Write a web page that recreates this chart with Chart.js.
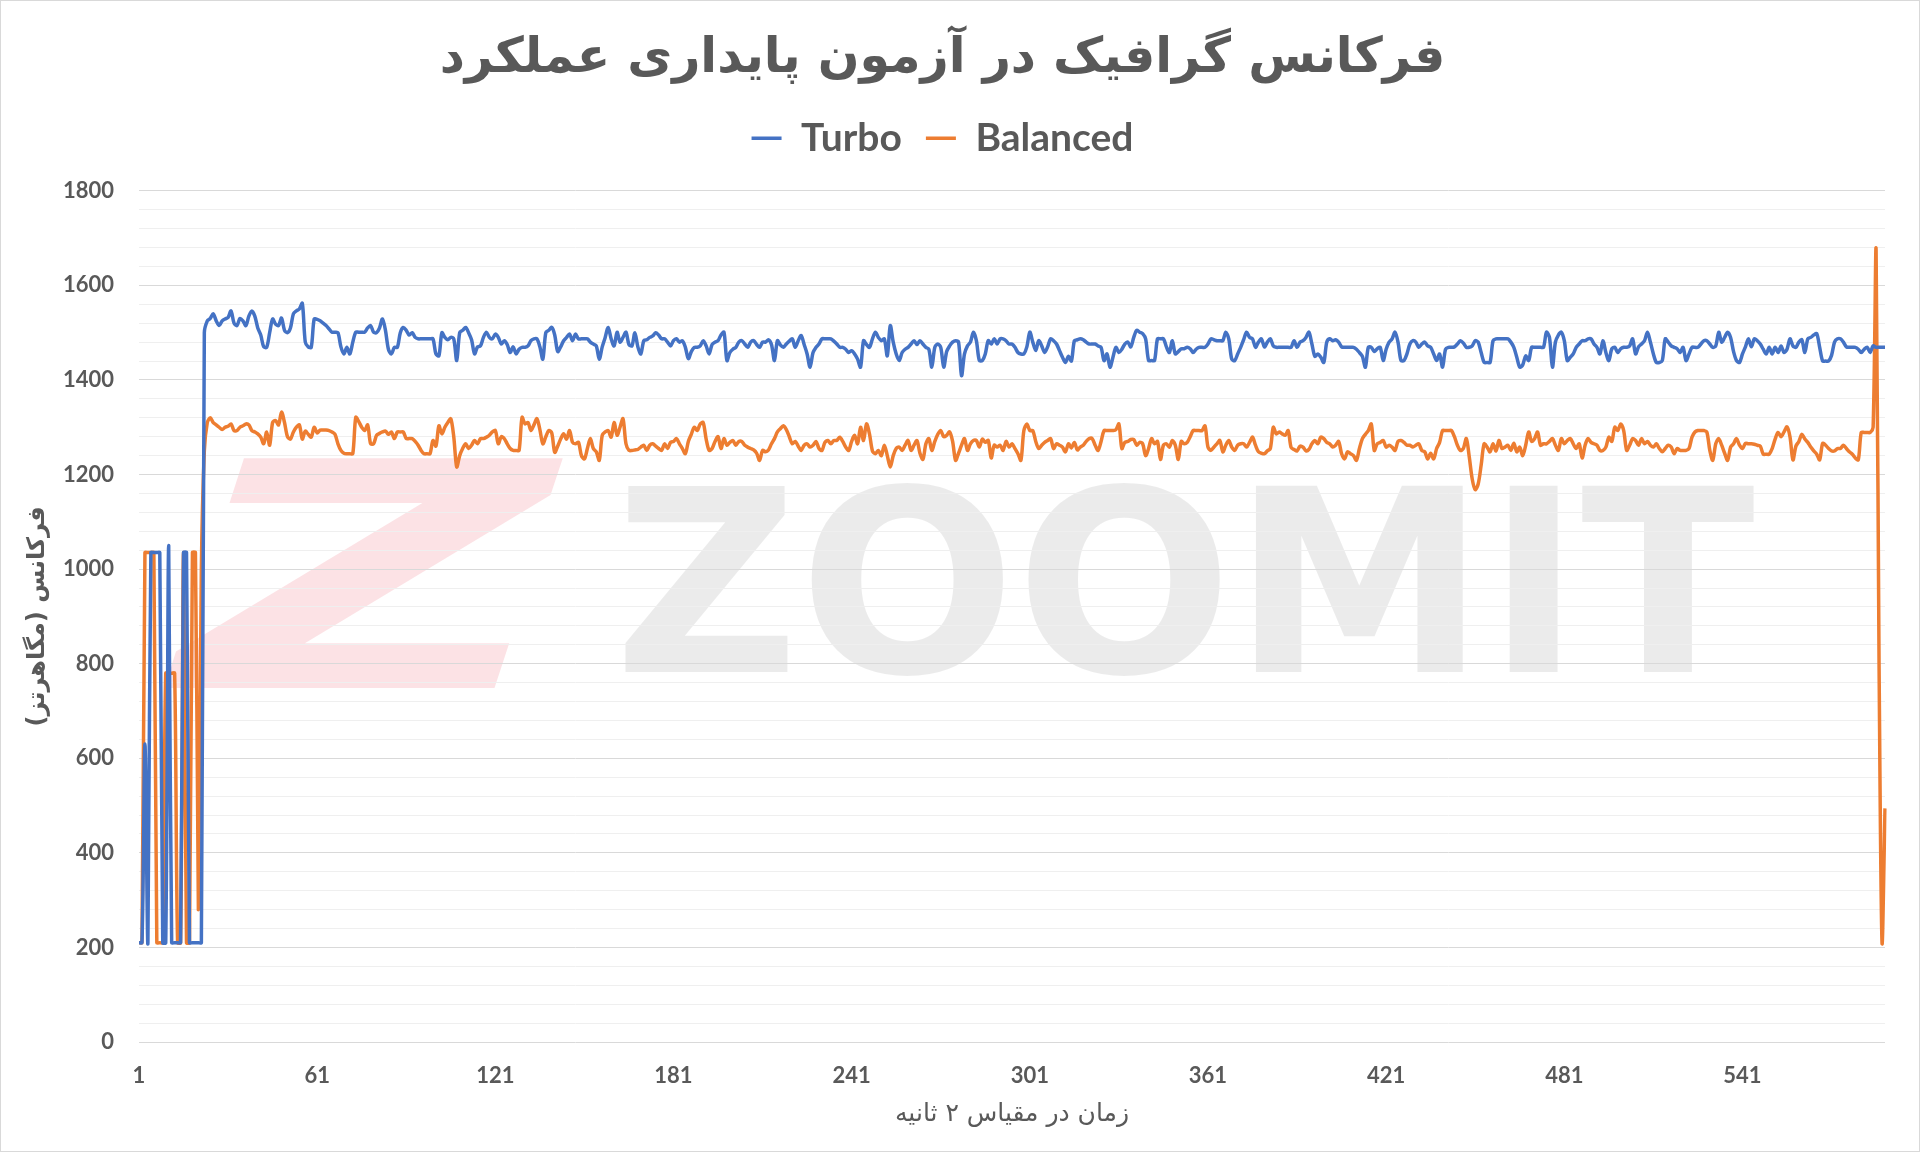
<!DOCTYPE html>
<html lang="fa">
<head>
  <meta charset="UTF-8" />
  <title>فرکانس گرافیک در آزمون پایداری عملکرد</title>
  <script src="https://cdn.jsdelivr.net/npm/chart.js"></script>
  <style>
    html, body {
      margin: 0;
      padding: 0;
      background: #ffffff;
    }
    .frame {
      position: relative;
      width: 1920px;
      height: 1152px;
    }
    .frame canvas {
      display: block;
    }
    .edge {
      position: absolute;
      inset: 0;
      border: 1px solid #d9d9d9;
      pointer-events: none;
    }
  </style>
</head>
<body>
  <div class="frame">
    <canvas id="freqChart" width="1920" height="1152"></canvas>
    <div class="edge"></div>
  </div>

  <script>
    // GPU clock (MHz), one sample every 2 seconds
    const turbo = [
      210,210,630,210,1035,1035,1035,1035,210,210,1050,210,210,210,210,1035,1035,210,210,210,210,210,1500,1525,
      1530,1540,1525,1515,1525,1529,1532,1546,1520,1515,1530,1525,1515,1535,1546,1535,1510,1495,1470,1469,1500,1529,1518,1515,1531,1505,1500,1510,1540,1546,1550,1562,1480,1470,1469,1529,1528,1525,1520,1515,1508,1501,1501,1500,1470,1455,1469,1455,1480,1501,1501,1501,1501,1510,1515,1501,
      1500,1510,1529,1505,1465,1455,1469,1469,1500,1511,1505,1495,1500,1490,1487,1487,1487,1487,1487,1487,1455,1451,1500,1490,1485,1490,1487,1441,1500,1505,1511,1500,1485,1455,1470,1472,1490,1501,1490,1487,1497,1490,1476,1483,1475,1458,1470,1455,1465,1469,1469,
      1472,1483,1487,1487,1470,1444,1500,1505,1511,1495,1460,1470,1483,1490,1497,1483,1497,1487,1487,1487,1487,1480,1476,1472,1444,1470,1490,1511,1487,1472,1501,1480,1490,1501,1475,1472,1500,1470,1455,1483,1485,1490,1493,1500,1495,1487,1487,1480,1472,1483,1487,
      1480,1483,1469,1445,1460,1469,1469,1472,1483,1472,1455,1475,1480,1483,1495,1501,1441,1458,1465,1469,1480,1483,1476,1469,1480,1483,1475,1469,1480,1480,1485,1475,1441,1483,1474,1469,1476,1482,1487,1469,1483,1494,1475,1455,1427,1458,1469,1476,1487,1487,1487,1487,
      1482,1476,1469,1469,1465,1458,1462,1455,1444,1427,1483,1475,1469,1487,1501,1490,1483,1487,1451,1515,1480,1455,1441,1458,1465,1469,1476,1483,1475,1483,1476,1469,1465,1427,1469,1476,1469,1427,1460,1472,1480,1483,1480,1409,1455,1472,1480,1501,1483,1441,1441,
      1455,1483,1476,1487,1476,1487,1487,1483,1476,1476,1469,1458,1455,1455,1470,1501,1480,1462,1483,1472,1458,1470,1487,1483,1476,1462,1448,1437,1450,1440,1483,1485,1487,1485,1480,1476,1476,1476,1472,1469,1441,1455,1427,1448,1469,1458,1465,1476,1480,1470,1490,
      1505,1501,1498,1487,1441,1441,1441,1487,1487,1487,1470,1458,1483,1455,1460,1466,1466,1469,1466,1458,1465,1469,1469,1469,1476,1487,1485,1483,1483,1483,1501,1487,1444,1441,1455,1469,1485,1501,1490,1487,1469,1480,1487,1470,1480,1487,1472,1469,1469,1469,1469,1469,
      1469,1483,1469,1480,1483,1490,1501,1476,1450,1455,1448,1437,1480,1487,1483,1485,1480,1470,1469,1469,1469,1469,1465,1458,1450,1427,1469,1469,1460,1466,1469,1441,1465,1480,1487,1501,1480,1441,1441,1455,1476,1483,1480,1469,1476,1480,1472,1469,1455,1441,1455,
      1427,1465,1469,1469,1470,1476,1483,1478,1469,1469,1472,1483,1480,1458,1437,1437,1437,1483,1487,1487,1487,1487,1487,1480,1469,1448,1427,1432,1451,1441,1469,1469,1469,1469,1469,1501,1490,1427,1480,1495,1501,1483,1441,1448,1455,1469,1476,1483,1483,1487,1487,
      1476,1469,1455,1483,1458,1441,1466,1469,1458,1466,1469,1469,1472,1487,1455,1470,1476,1483,1501,1480,1455,1437,1437,1441,1487,1480,1472,1469,1466,1458,1469,1441,1455,1469,1469,1469,1476,1483,1483,1476,1469,1472,1501,1480,1490,1501,1490,1460,1441,1437,1455,
      1470,1487,1470,1487,1483,1476,1465,1455,1469,1455,1469,1458,1472,1458,1465,1487,1472,1469,1480,1485,1458,1487,1490,1495,1498,1469,1440,1440,1440,1452,1480,1487,1487,1480,1470,1469,1469,1469,1465,1458,1465,1469,1458,1472,1469,1469,1469,1469
    ];

    const balanced = [
      210,210,1035,1035,1035,1035,210,210,210,780,780,780,780,210,210,1035,210,210,1035,1035,280,1000,1250,1310,
      1320,1310,1305,1300,1295,1300,1302,1307,1293,1293,1300,1303,1307,1305,1293,1290,1286,1279,1265,1290,1262,1310,1314,1305,1332,1310,1280,1275,1290,1300,1305,1275,1292,1285,1279,1300,1288,1294,1294,1294,1293,1290,1285,1265,1251,1245,1244,1244,1244,1321,1312,1300,1293,1305,1265,1265,
      1283,1287,1290,1292,1285,1290,1276,1290,1290,1290,1276,1276,1276,1270,1262,1251,1244,1244,1244,1272,1260,1303,1286,1300,1310,1318,1280,1216,1240,1255,1265,1255,1262,1272,1265,1276,1276,1279,1283,1290,1293,1265,1280,1276,1265,1255,1251,1251,1251,1321,1307,
      1310,1293,1305,1318,1295,1265,1280,1293,1288,1247,1260,1275,1286,1275,1293,1268,1265,1268,1240,1233,1255,1276,1255,1248,1230,1283,1290,1293,1279,1310,1283,1300,1318,1265,1251,1251,1252,1253,1258,1262,1251,1262,1265,1260,1255,1251,1265,1255,1268,1270,1276,
      1265,1255,1244,1270,1285,1300,1293,1307,1310,1275,1251,1255,1270,1280,1255,1276,1262,1268,1272,1262,1270,1270,1262,1258,1255,1252,1245,1230,1251,1248,1252,1265,1276,1290,1297,1303,1295,1280,1265,1270,1260,1251,1262,1265,1258,1262,1270,1255,1251,1268,1272,1265,
      1272,1272,1279,1270,1258,1251,1270,1283,1265,1300,1272,1307,1286,1250,1244,1251,1240,1262,1240,1216,1240,1255,1258,1251,1262,1272,1251,1262,1272,1245,1232,1265,1276,1251,1270,1285,1293,1280,1283,1290,1270,1230,1245,1262,1276,1251,1265,1272,1272,1258,1275,
      1268,1272,1235,1262,1258,1262,1251,1270,1258,1265,1255,1244,1230,1293,1307,1293,1293,1270,1255,1262,1268,1272,1276,1255,1265,1262,1258,1248,1265,1256,1268,1252,1258,1262,1270,1276,1276,1262,1251,1270,1293,1293,1293,1293,1295,1307,1255,1268,1270,1274,1274,
      1262,1268,1265,1240,1255,1276,1265,1270,1232,1262,1265,1258,1272,1262,1232,1270,1265,1268,1280,1293,1293,1293,1293,1303,1258,1251,1258,1265,1272,1248,1262,1272,1258,1251,1262,1265,1265,1258,1268,1279,1262,1248,1245,1244,1250,1255,1300,1286,1290,1286,1283,1293,
      1257,1253,1250,1260,1258,1250,1253,1265,1272,1265,1279,1276,1268,1265,1258,1262,1270,1244,1233,1248,1244,1240,1230,1255,1276,1285,1293,1307,1251,1265,1268,1272,1258,1262,1258,1251,1270,1272,1268,1262,1262,1258,1262,1265,1251,1248,1233,1245,1233,1255,1268,
      1293,1293,1293,1293,1280,1262,1251,1255,1276,1237,1190,1168,1180,1220,1265,1258,1248,1265,1250,1272,1255,1258,1262,1251,1266,1248,1258,1240,1262,1290,1270,1276,1290,1262,1265,1265,1270,1276,1262,1251,1276,1265,1272,1276,1265,1255,1265,1235,1262,1276,1268,
      1265,1262,1251,1251,1258,1279,1270,1300,1293,1307,1293,1251,1262,1276,1272,1262,1276,1265,1270,1262,1258,1265,1255,1248,1255,1262,1258,1244,1255,1251,1251,1251,1255,1279,1290,1293,1293,1293,1290,1251,1230,1265,1276,1262,1245,1230,1258,1265,1276,1262,1255,
      1266,1265,1265,1264,1262,1260,1243,1243,1243,1255,1275,1289,1280,1290,1301,1280,1231,1260,1270,1285,1275,1268,1258,1250,1243,1231,1266,1262,1255,1250,1250,1255,1255,1262,1255,1248,1243,1235,1231,1289,1289,1289,1289,1300,1675,800,210,494
    ];

    const seriesNames = ['Turbo', 'Balanced'];
    const xTickLabels = ['1', '61', '121', '181', '241', '301', '361', '421', '481', '541'];
    const yMin = 0;
    const yMax = 1800;
    const yMajorStep = 200;
    const yMinorStep = 40;

    // sample numbers 1..n along the time axis
    const labels = turbo.map((_, i) => String(i + 1));

    const grey = '#595959';
    const latin = "Lato, 'Open Sans', sans-serif";
    const persian = "'DejaVu Sans', sans-serif";

    // push the plot area down below the legend
    const legendSpacer = {
      id: 'legendSpacer',
      beforeInit(chart) {
        const fit = chart.legend.fit;
        chart.legend.fit = function () {
          fit.bind(chart.legend)();
          this.height += 23;
        };
      }
    };

    // faint site watermark behind the grid
    const watermark = {
      id: 'watermark',
      beforeDraw(chart) {
        const c = chart.ctx;
        c.save();
        c.fillStyle = 'rgba(0, 0, 0, 0.08)';
        c.font = "bold 255px 'DejaVu Sans'";
        c.textBaseline = 'alphabetic';
        c.textAlign = 'left';
        c.fillText('ZOOMIT', 614, 672);
        c.fillStyle = 'rgba(235, 60, 80, 0.15)';
        c.translate(178, 688);
        c.scale(1.65, 1);
        c.font = "bold oblique 315px 'DejaVu Sans'";
        c.fillText('Z', 0, 0);
        c.restore();
      }
    };

    const ctx = document.getElementById('freqChart').getContext('2d');
    new Chart(ctx, {
      type: 'line',
      data: {
        labels: labels,
        datasets: [
          {
            label: seriesNames[0],
            data: turbo,
            borderColor: '#4472C4',
            backgroundColor: '#4472C4',
            borderWidth: 3.5,
            pointRadius: 0,
            tension: 0.3
          },
          {
            label: seriesNames[1],
            data: balanced,
            borderColor: '#ED7D31',
            backgroundColor: '#ED7D31',
            borderWidth: 3.5,
            pointRadius: 0,
            tension: 0.3
          }
        ]
      },
      options: {
        responsive: false,
        animation: false,
        devicePixelRatio: 1,
        layout: { padding: { left: 0, right: 35, top: 0, bottom: 0 } },
        plugins: {
          title: {
            display: true,
            text: 'فرکانس گرافیک در آزمون پایداری عملکرد',
            color: grey,
            font: { family: persian, size: 49, weight: 'bold' },
            padding: { top: 30, bottom: 6 }
          },
          legend: {
            labels: {
              usePointStyle: true,
              pointStyle: 'line',
              pointStyleWidth: 30,
              color: grey,
              font: { family: latin, size: 39, weight: 'bold' },
              padding: 24
            }
          },
          tooltip: { enabled: false }
        },
        scales: {
          x: {
            grid: { display: false, drawTicks: false },
            border: { display: false },
            ticks: {
              autoSkip: false,
              maxRotation: 0,
              padding: 21,
              color: grey,
              font: { family: latin, size: 22, weight: 'bold' },
              callback: function (value, index) {
                return xTickLabels.includes(labels[index]) ? labels[index] : null;
              }
            },
            title: {
              display: true,
              text: 'زمان در مقیاس ۲ ثانیه',
              color: grey,
              font: { family: persian, size: 25 },
              padding: { top: 0, bottom: 23 }
            },
            afterFit: function (scale) { scale.height = 110; }
          },
          y: {
            min: yMin,
            max: yMax,
            border: { display: false },
            grid: {
              drawTicks: false,
              lineWidth: 1,
              color: function (c) {
                return c.tick && c.tick.value % yMajorStep === 0 ? '#d9d9d9' : '#efefef';
              }
            },
            ticks: {
              stepSize: yMinorStep,
              autoSkip: false,
              padding: 25,
              color: grey,
              font: { family: latin, size: 22, weight: 'bold' },
              callback: function (value) {
                return value % yMajorStep === 0 ? value : '';
              }
            },
            title: {
              display: true,
              text: 'فرکانس (مگاهرتز)',
              color: grey,
              font: { family: persian, size: 24, weight: 'bold' },
              padding: { top: 23, bottom: 0 }
            },
            afterFit: function (scale) { scale.width = 139; }
          }
        }
      },
      plugins: [legendSpacer, watermark]
    });
  </script>
</body>
</html>
